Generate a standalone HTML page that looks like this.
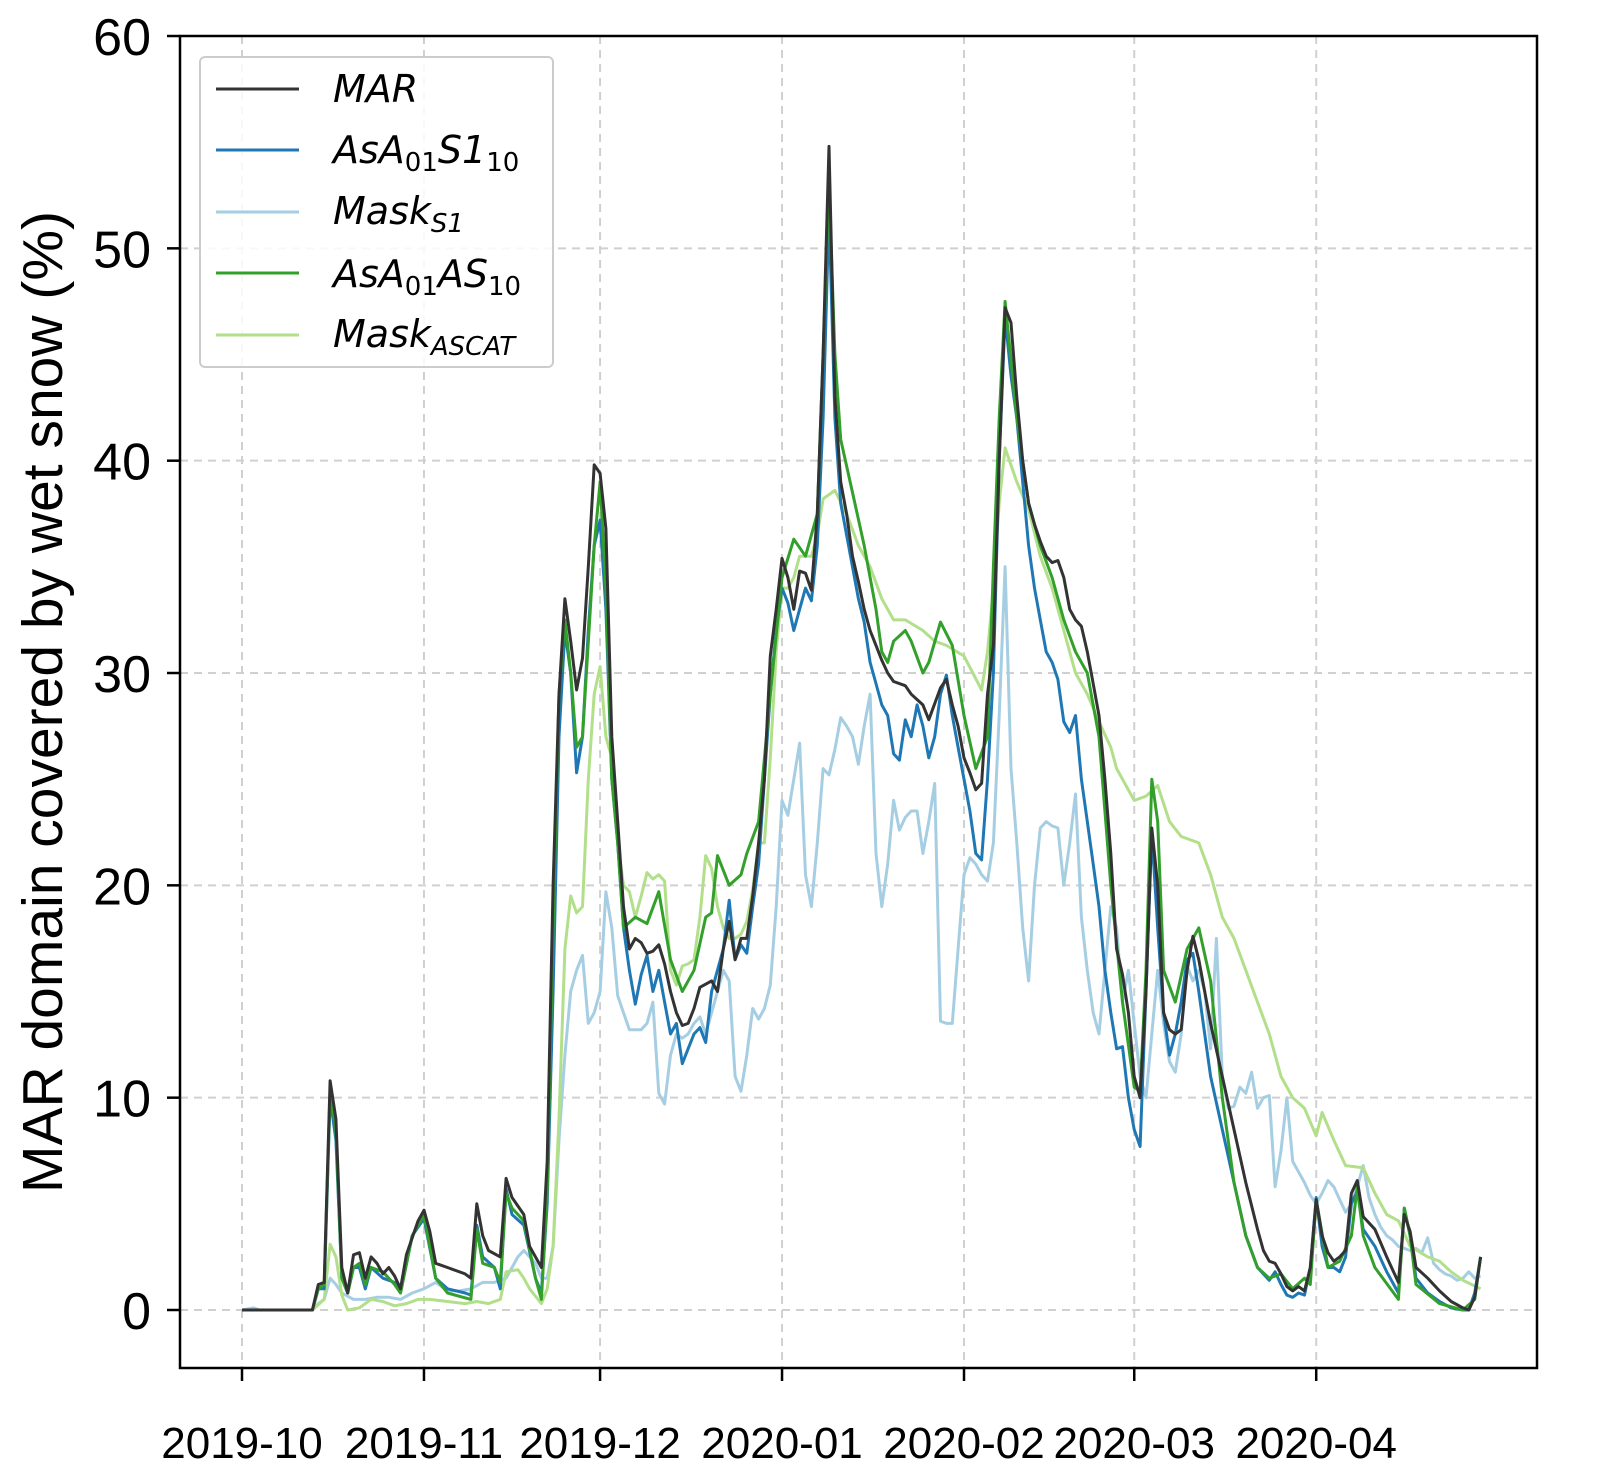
<!DOCTYPE html>
<html><head><meta charset="utf-8"><style>
html,body{margin:0;padding:0;background:#fff;}
svg{display:block;}
</style></head><body>
<svg id="chart" width="1599" height="1477" viewBox="0 0 1599 1477" xmlns="http://www.w3.org/2000/svg">
<rect x="0" y="0" width="1599" height="1477" fill="#fff"/>
<g id="grid"></g>
<g id="series"></g>
<rect x="180" y="36" width="1357" height="1332" fill="none" stroke="#000" stroke-width="2.5"/>
<g id="axes"></g>
<text transform="translate(62,702) rotate(-90)" text-anchor="middle" font-family="Liberation Sans, sans-serif" font-size="57">MAR domain covered by wet snow (%)</text>
<g font-family="DejaVu Sans, sans-serif" font-style="italic" font-size="38">
<rect x="200" y="57" width="353" height="310" rx="5" fill="#fff" fill-opacity="0.85" stroke="#ccc" stroke-width="2"/>
<g><line x1="216" y1="89" x2="299" y2="89" stroke="#333" stroke-width="3"/><text x="333" y="102">MAR</text></g>
<g><line x1="216" y1="150" x2="299" y2="150" stroke="#1f78b4" stroke-width="3"/><text x="333" y="163">AsA<tspan font-style="normal" font-size="26" dy="8">01</tspan><tspan dy="-8">S1</tspan><tspan font-style="normal" font-size="26" dy="8">10</tspan></text></g>
<g><line x1="216" y1="212" x2="299" y2="212" stroke="#a6cee3" stroke-width="3"/><text x="333" y="224">Mask<tspan font-size="26" dy="8">S1</tspan></text></g>
<g><line x1="216" y1="273" x2="299" y2="273" stroke="#33a02c" stroke-width="3"/><text x="333" y="287">AsA<tspan font-style="normal" font-size="26" dy="8">01</tspan><tspan dy="-8">AS</tspan><tspan font-style="normal" font-size="26" dy="8">10</tspan></text></g>
<g><line x1="216" y1="335" x2="299" y2="335" stroke="#b2df8a" stroke-width="3"/><text x="333" y="347">Mask<tspan font-size="26" dy="8">ASCAT</tspan></text></g>
</g>
</svg>
<script>
const xTickLabels = ["2019-10","2019-11","2019-12","2020-01","2020-02","2020-03","2020-04"];
const xTickDays = [0,31,61,92,123,152,183];
const yTicks = [0,10,20,30,40,50,60];

const marDays = [0,12,13,14,15,16,17,18,19,20,21,22,23,24,25,26,27,28,30,31,32,33,35,38,39,40,41,42,44,45,46,48,49,51,52,53,54,55,56,57,58,59,60,61,62,63,64,65,66,67,68,69,70,71,72,73,74,75,76,77,78,80,81,82,83,84,85,86,87,88,89,90,91,92,93,94,95,96,97,98,99,100,101,102,103,104,105,106,107,108,109,110,111,113,114,116,117,119,120,121,122,123,124,125,126,127,128,129,130,131,132,133,134,135,136,137,138,139,140,141,142,143,144,145,146,147,148,149,150,151,152,153,154,155,156,157,158,159,160,161,162,163,164,165,167,169,171,173,174,175,176,177,178,179,180,181,182,183,184,185,186,187,188,189,190,191,193,195,197,198,199,200,202,204,206,208,209,210,211];
const marVals = [0,0,1.2,1.3,10.8,9,2,0.8,2.6,2.7,1.5,2.5,2.2,1.7,2.0,1.6,1.0,2.6,4.2,4.7,3.7,2.2,2.0,1.7,1.5,5.0,3.5,2.8,2.5,6.2,5.3,4.5,3.0,2.0,7.0,20,29,33.5,31.5,29.2,30.7,35,39.8,39.4,36.8,27,23,19,17,17.5,17.3,16.8,16.9,17.2,16.3,15,14,13.4,13.5,14.2,15.2,15.5,15.0,17,18.3,16.5,17.5,17.5,19.5,22,25,30.8,33,35.4,34.5,33,34.8,34.7,33.9,37.5,45,54.8,43,39,37.5,35.5,34.3,33,32,31.3,30.6,30,29.6,29.4,29,28.5,27.8,29.3,29.7,28.5,27.5,26,25.3,24.5,24.8,29,31.3,40,47.2,46.5,43,40,38,37,36.2,35.5,35.2,35.3,34.5,33,32.5,32.2,31,29.5,28,25,21.5,17,15.8,14,11,10,15,22.7,20,14,13.2,13.0,13.2,16,17.6,16.5,15,13.5,11,8.5,6,3.8,2.8,2.3,2.2,1.7,1.1,0.9,1.1,0.9,2.0,5.2,3.5,2.7,2.3,2.5,2.8,5.5,6.1,4.4,3.8,2.5,1.3,4.5,3.7,2.0,1.5,0.9,0.4,0.1,0,0.6,2.5];

const s1aDays = [0,12,13,14,15,16,17,18,19,20,21,22,24,26,27,29,31,33,35,38,39,40,41,43,44,45,46,48,50,51,52,53,54,55,56,57,58,59,60,61,62,63,64,65,66,67,68,69,70,71,72,73,74,75,76,77,78,79,80,82,83,84,85,86,87,88,89,90,91,92,93,94,95,96,97,98,99,100,101,102,103,104,105,106,107,108,109,110,111,112,113,114,115,116,117,118,119,120,121,122,123,124,125,126,127,128,129,130,131,132,133,134,135,136,137,138,139,140,141,142,143,144,145,146,147,148,149,150,151,152,153,154,155,156,157,158,159,160,161,162,163,164,165,167,169,171,173,175,176,177,178,179,180,181,182,183,184,185,186,187,188,189,190,191,193,195,197,198,199,200,202,204,206,208,209,210,211];
const s1aVals = [0,0,1,1,10,8,1.5,0.8,2,2,1,2,1.5,1.3,0.8,3.5,4.3,1.5,1,0.8,0.7,4,2.5,2,1,5.7,4.5,4,1.5,0.8,5,15,27,32,30,25.3,27,32,36,37.2,33,25,22,18,16,14.4,15.8,16.7,15,16,14.5,13,13.5,11.6,12.3,13,13.3,12.6,15,17,19.3,16.5,17.2,16.8,19,21,25,29,32,34,33.3,32,33,34,33.4,36,42,51.8,42,38,36.5,35,33.5,32.4,30.5,29.5,28.5,28,26.2,25.9,27.8,27,28.5,27.5,26,27,29,29.9,28,26.5,25,23.5,21.5,21.2,25,30,40,46.8,44,42,39,36,34,32.5,31,30.5,29.7,27.7,27.2,28,25,23,21,19,16,14,12.3,12.4,10,8.5,7.7,15,22.5,18,14,12,13,14.5,16.5,16.8,15,13,11,8.5,6,3.5,2,1.4,1.8,1.2,0.7,0.6,0.8,0.7,2,5.3,3,2,2,1.8,2.5,5,5.6,3.8,3,1.8,0.8,4.8,3.5,1.5,0.8,0.4,0.1,0,0,0.8,2.5];

const maskS1Days = [0,2,3,12,13,14,15,16,17,19,21,23,25,27,29,31,33,35,37,39,41,43,45,47,48,50,51,52,53,54,55,56,57,58,59,60,61,62,63,64,65,66,67,68,69,70,71,72,73,74,75,76,77,78,79,80,81,82,83,84,85,86,87,88,89,90,91,92,93,94,95,96,97,98,99,100,101,102,103,104,105,106,107,108,109,110,111,112,113,114,115,116,117,118,119,120,121,122,123,124,125,126,127,128,129,130,131,132,133,134,135,136,137,138,139,140,141,142,143,144,145,146,147,148,149,150,151,152,153,154,155,156,157,158,159,160,161,162,163,164,165,166,167,168,169,170,171,172,173,174,175,176,177,178,179,180,181,182,183,184,185,186,187,188,189,190,191,192,193,194,195,196,197,198,199,200,201,202,203,204,205,206,207,208,209,210,211];
const maskS1Vals = [0,0.1,0,0,0.3,0.5,1.5,1.2,0.8,0.5,0.5,0.6,0.6,0.5,0.8,1,1.3,0.9,0.9,1,1.3,1.3,1.5,2.5,2.8,2.2,1.5,1.5,3,8,12,15,16,16.7,13.5,14,15,19.7,18,14.8,14,13.2,13.2,13.2,13.5,14.5,10.2,9.7,12,13,12.8,13,13.5,13.8,13,14,15,16,15.5,11,10.3,12,14.2,13.7,14.2,15.3,19,24,23.3,25,26.7,20.5,19,22,25.5,25.2,26.4,27.9,27.5,27,25.7,27.5,29,21.5,19,21,24,22.6,23.2,23.5,23.5,21.5,23,24.8,13.6,13.5,13.5,17,20.5,21.3,21,20.5,20.2,22,28,35,25.5,22,18,15.5,20,22.7,23,22.8,22.7,20,22,24.3,18.5,16,14,13,16,19,18,14.5,16,13.5,11,10,13,16,13.5,11.7,11.2,13,16.2,15.5,16,15,12.3,17.5,11,9.5,9.6,10.5,10.2,11.2,9.5,10,10.1,5.8,7.5,10,7,6.5,6,5.4,5,5.5,6.1,5.8,5.2,4.6,5,5.8,6.8,5.3,4.5,3.9,3.5,3.3,3.0,2.9,2.8,2.9,2.7,3.4,2.2,1.9,1.7,1.6,1.4,1.5,1.8,1.5,1.6,1.6];

const asDays = [0,12,13,14,15,16,17,18,19,20,21,22,24,26,27,29,31,33,35,39,40,41,43,44,45,46,48,50,51,52,53,54,55,56,57,58,60,61,62,63,64,65,67,69,71,73,75,77,79,80,81,83,85,86,88,90,92,94,96,98,99,100,101,102,104,106,108,109,110,111,113,114,116,117,119,121,123,125,127,128,129,130,132,134,136,138,140,142,144,146,148,150,152,153,154,155,156,157,159,161,163,165,167,169,171,173,175,177,179,181,182,183,185,187,189,190,191,193,197,198,199,200,204,208,210,211];
const asVals = [0,0,1,1.2,10.3,8.5,1.5,0.8,2,2.2,1.2,2,1.8,1.2,0.8,3.5,4.5,1.5,0.8,0.5,3.8,2.2,2,1.3,5.5,4.8,4.2,1.5,0.5,5.5,18,29,32.5,30,26.5,27,36,39,34,25,22,18,18.5,18.2,19.7,16.5,15,16,18.5,18.7,21.4,20,20.5,21.5,23,29,34.5,36.3,35.5,37.5,45,53,45,41,38.5,36,33,31,30.5,31.5,32,31.5,30,30.5,32.4,31.3,28,25.5,27,35,42,47.5,42,38,36,34.5,32.5,31,30,27,20,14.5,10.5,10.3,16,25,23,16,14.5,17,18,15.5,10,6,3.5,2,1.5,1.7,1,1.5,1.2,5.2,2,2.3,3.5,5.8,3.5,2,0.5,4.8,3.5,1.2,0.3,0,0.5,2.5];

const ascatDays = [0,12,14,15,16,17,18,20,22,24,26,28,30,32,35,38,40,42,44,45,47,48,49,51,52,53,54,55,56,57,58,59,60,61,62,63,64,65,66,67,68,69,70,71,72,73,74,75,76,77,78,79,80,81,82,83,84,85,86,87,88,89,90,91,92,93,94,95,96,97,98,99,101,103,105,107,109,111,113,116,118,120,123,126,127,128,129,130,132,134,136,138,140,142,144,146,148,149,150,152,154,156,158,160,163,165,167,169,171,173,175,177,179,181,183,184,186,188,191,193,195,197,199,202,204,206,208,211];
const ascatVals = [0,0,0.5,3.1,2.5,0.7,0,0.1,0.5,0.4,0.2,0.3,0.5,0.5,0.4,0.3,0.4,0.3,0.5,1.8,1.9,1.5,1.0,0.3,1,3,9,17,19.5,18.7,19,25,29,30.3,27,26,22,20,19.7,18.5,19.5,20.6,20.3,20.5,20.2,16,15.3,16.2,16.3,16.5,18.5,21.4,20.8,19,18,17.5,17.5,17.7,18.3,19.8,22,22,26,31,34,34,34.5,35.5,35.5,35.5,36.5,38.2,38.6,37.5,36,35,33.5,32.5,32.5,32,31.5,31.3,30.8,29.2,31,34,38,40.6,39,37.7,35.5,34,32,30,29,27.7,26.5,25.5,25,24,24.2,24.7,23,22.3,22,20.5,18.5,17.5,16,14.5,13,11,10,9.5,8.2,9.3,8,6.8,6.7,5.5,4.5,4.2,3,2.5,2.3,1.8,1.4,1.0];

const X0=242, PXD=5.87, Y0=1310, PYU=21.233;
function xScale(d){return X0 + d*PXD;}
function yScale(v){return Y0 - v*PYU;}
const NS="http://www.w3.org/2000/svg";
const grid=document.getElementById('grid');
const axes=document.getElementById('axes');
const seriesG=document.getElementById('series');

xTickDays.forEach((d,i)=>{
  const x=xScale(d);
  const g=document.createElementNS(NS,'line');
  g.setAttribute('x1',x);g.setAttribute('x2',x);g.setAttribute('y1',36);g.setAttribute('y2',1368);
  g.setAttribute('stroke','#d0d0d0');g.setAttribute('stroke-width','2');g.setAttribute('stroke-dasharray','8,6');
  
  
  grid.appendChild(g);
  const t=document.createElementNS(NS,'line');
  t.setAttribute('x1',x);t.setAttribute('x2',x);t.setAttribute('y1',1368);t.setAttribute('y2',1381);
  t.setAttribute('stroke','#000');t.setAttribute('stroke-width','2.5');
  
  
  axes.appendChild(t);
  const l=document.createElementNS(NS,'text');
  l.setAttribute('x',x);l.setAttribute('y',1458);l.setAttribute('text-anchor','middle');
  l.setAttribute('font-family','Liberation Sans, sans-serif');l.setAttribute('font-size','44');
  l.textContent=xTickLabels[i];
  
  
  axes.appendChild(l);
});
yTicks.forEach(v=>{
  const y=yScale(v);
  const g=document.createElementNS(NS,'line');
  g.setAttribute('x1',180);g.setAttribute('x2',1537);g.setAttribute('y1',y);g.setAttribute('y2',y);
  g.setAttribute('stroke','#d0d0d0');g.setAttribute('stroke-width','2');g.setAttribute('stroke-dasharray','8,6');
  
  
  grid.appendChild(g);
  const t=document.createElementNS(NS,'line');
  t.setAttribute('x1',167);t.setAttribute('x2',180);t.setAttribute('y1',y);t.setAttribute('y2',y);
  t.setAttribute('stroke','#000');t.setAttribute('stroke-width','2.5');
  
  
  axes.appendChild(t);
  const l=document.createElementNS(NS,'text');
  l.setAttribute('x',151);l.setAttribute('y',y+19);l.setAttribute('text-anchor','end');
  l.setAttribute('font-family','Liberation Sans, sans-serif');l.setAttribute('font-size','52');
  l.textContent=String(v);
  
  
  axes.appendChild(l);
});
function drawLine(days,vals,color,name){
  const p=document.createElementNS(NS,'path');
  let d='';
  days.forEach((dd,i)=>{d+=(i?'L':'M')+xScale(dd).toFixed(1)+','+yScale(vals[i]).toFixed(1);});
  p.setAttribute('d',d);p.setAttribute('fill','none');p.setAttribute('stroke',color);
  p.setAttribute('stroke-width','3');p.setAttribute('stroke-linejoin','round');
  
  
  seriesG.appendChild(p);
}
drawLine(maskS1Days,maskS1Vals,'#a6cee3','line-mask-s1');
drawLine(ascatDays,ascatVals,'#b2df8a','line-mask-ascat');
drawLine(s1aDays,s1aVals,'#1f78b4','line-asa01s110');
drawLine(asDays,asVals,'#33a02c','line-asa01as10');
drawLine(marDays,marVals,'#333333','line-mar');
</script>
</body></html>
